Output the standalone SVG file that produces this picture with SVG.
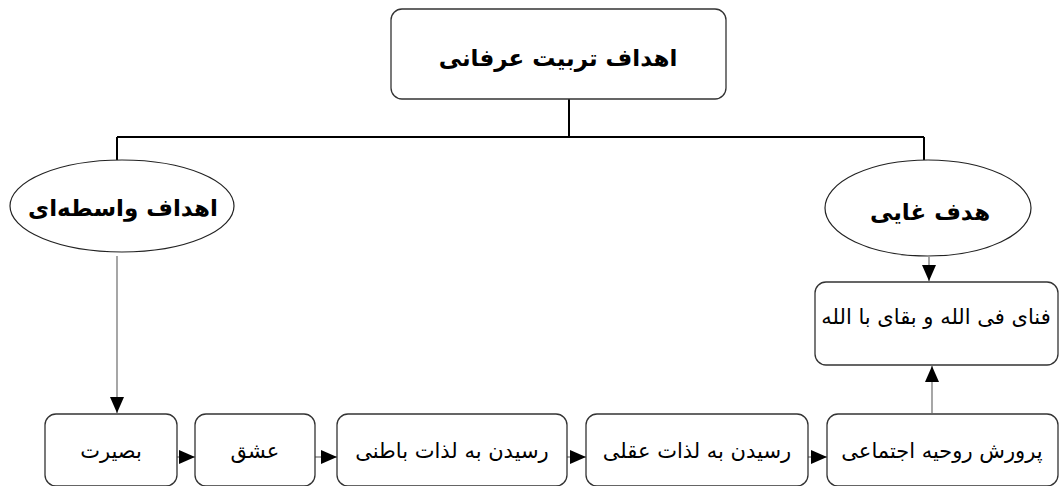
<svg xmlns="http://www.w3.org/2000/svg" width="1059" height="486" viewBox="0 0 1059 486">
<defs>
<style>
.box{fill:#fff;stroke:#333;stroke-width:1.3}
.ell{fill:#fff;stroke:#222;stroke-width:1.2}
.t{font-family:"DejaVu Sans","Liberation Serif",serif;fill:#000;text-anchor:middle}
.b{font-weight:bold;font-size:23px}
.r{font-size:21px}
.tree{stroke:#000;stroke-width:2;fill:none}
.con{stroke:#777;stroke-width:1.3;fill:none}
</style>
<marker id="ah" markerUnits="userSpaceOnUse" markerWidth="16" markerHeight="16" viewBox="0 0 16 16" refX="16" refY="8" orient="auto">
<path d="M0,1 L16,8 L0,15 Z" fill="#000"/>
</marker>
</defs>
<g id="connectors">
<path class="tree" d="M569,99 V137 M117,137 H924 M117,137 V160 M924,137 V160"/>
<path class="con" d="M117,256 V413" marker-end="url(#ah)"/>
<path class="con" d="M929,257 V281" marker-end="url(#ah)"/>
<path class="con" d="M932,413 V366" marker-end="url(#ah)"/>
<path class="con" d="M177,457 H195" marker-end="url(#ah)"/>
<path class="con" d="M315,457 H337" marker-end="url(#ah)"/>
<path class="con" d="M567,457 H586" marker-end="url(#ah)"/>
<path class="con" d="M808,457 H827" marker-end="url(#ah)"/>
</g>
<g id="root">
<rect class="box" x="391" y="9" width="335" height="90" rx="11"/>
<text class="t b" x="558" y="66">اهداف تربیت عرفانی</text>
</g>
<g id="intermediate">
<ellipse class="ell" cx="122" cy="206" rx="112" ry="46"/>
<text class="t b" x="123" y="216">اهداف واسطه‌ای</text>
</g>
<g id="ultimate">
<ellipse class="ell" cx="928" cy="208" rx="103" ry="48"/>
<text class="t b" x="930" y="220">هدف غایی</text>
</g>
<g id="fana">
<rect class="box" x="815" y="282" width="243" height="83" rx="11"/>
<text class="t r" x="936" y="324">فنای فی الله و بقای با الله</text>
</g>
<g id="basirat">
<rect class="box" x="45" y="414" width="132" height="72" rx="11"/>
<text class="t r" x="111" y="458">بصیرت</text>
</g>
<g id="eshgh">
<rect class="box" x="195" y="414" width="120" height="72" rx="11"/>
<text class="t r" x="255" y="458">عشق</text>
</g>
<g id="batini">
<rect class="box" x="337" y="414" width="230" height="72" rx="11"/>
<text class="t r" x="452" y="458">رسیدن به لذات باطنی</text>
</g>
<g id="aghli">
<rect class="box" x="586" y="414" width="222" height="72" rx="11"/>
<text class="t r" x="697" y="458">رسیدن به لذات عقلی</text>
</g>
<g id="ejtemai">
<rect class="box" x="827" y="414" width="231" height="72" rx="11"/>
<text class="t r" x="942" y="458">پرورش روحیه اجتماعی</text>
</g>
</svg>
